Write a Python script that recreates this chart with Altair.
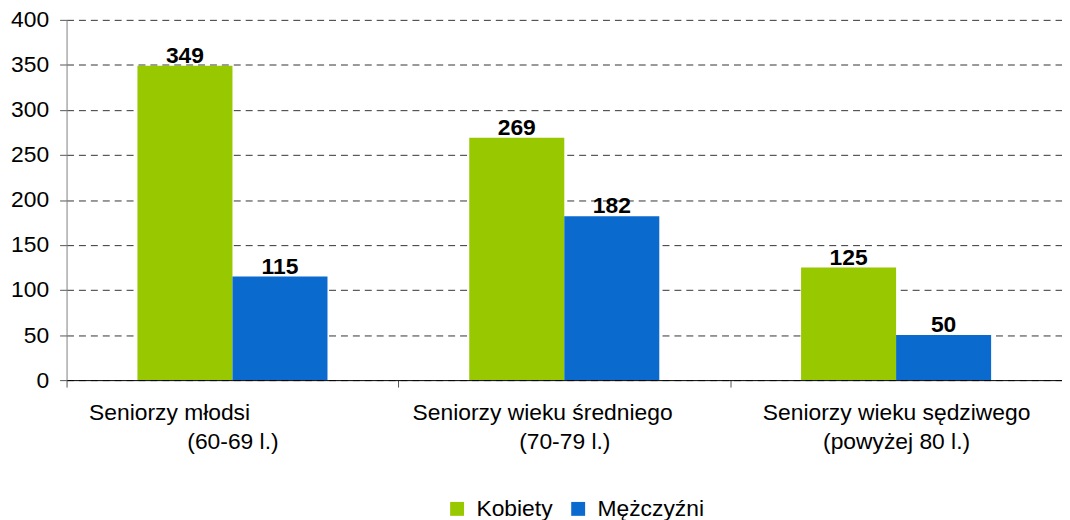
import altair as alt
import pandas as pd

# ---- data ----
group_line1 = ["Seniorzy młodsi", "Seniorzy wieku średniego", "Seniorzy wieku sędziwego"]
group_line2 = ["(60-69 l.)", "(70-79 l.)", "(powyżej 80 l.)"]
series = ["Kobiety", "Mężczyźni"]
kobiety = [349, 269, 125]
mezczyzni = [115, 182, 50]

# ---- style ----
FONT = "Liberation Sans"
FS = 23
colors = ["#98C800", "#0A6ACE"]
line1_pad = [20, 7, 0]  # trailing non-breaking spaces (label layout as in the original)

keys = [
    l1 + "\u00a0" * p + "\u200b" + "|" + l2
    for l1, l2, p in zip(group_line1, group_line2, line1_pad)
]

rows = []
for k, a, b in zip(keys, kobiety, mezczyzni):
    rows.append({"group": k, "series": series[0], "value": a})
    rows.append({"group": k, "series": series[1], "value": b})
df = pd.DataFrame(rows)

x = alt.X(
    "group:N",
    sort=keys,
    scale=alt.Scale(paddingInner=0, paddingOuter=0),
    axis=alt.Axis(
        title=None,
        labelAngle=0,
        tickBand="extent",
        tickSize=7,
        tickColor="#555555",
        domainColor="#000000",
        labelFont=FONT,
        labelFontSize=FS,
        labelColor="#000000",
        labelLineHeight=29,
        labelPadding=15,
        labelLimit=600,
        labelExpr="split(datum.label, '|')",
        grid=False,
    ),
)
xo = alt.XOffset("series:N", sort=series, scale=alt.Scale(paddingInner=0, paddingOuter=0.746))
y = alt.Y(
    "value:Q",
    scale=alt.Scale(domain=[0, 400], nice=False),
    axis=alt.Axis(
        title=None,
        values=list(range(0, 401, 50)),
        tickSize=7,
        tickColor="#555555",
        domainColor="#808080",
        grid=True,
        gridColor="#333333",
        gridDash=[7, 5],
        gridWidth=1,
        labelFont=FONT,
        labelFontSize=FS,
        labelColor="#000000",
        labelPadding=11,
    ),
)

bars = alt.Chart(df).mark_bar().encode(
    x=x,
    xOffset=xo,
    y=y,
    color=alt.Color(
        "series:N",
        sort=series,
        scale=alt.Scale(domain=series, range=colors),
        legend=alt.Legend(
            title=None,
            orient="none",
            legendX=382,
            legendY=481,
            direction="horizontal",
            symbolType="square",
            symbolSize=196,
            symbolStrokeWidth=0,
            labelFont=FONT,
            labelFontSize=FS,
            labelColor="#000000",
            labelOffset=8,
            columnPadding=14,
        ),
    ),
)

labels = alt.Chart(df).mark_text(
    baseline="alphabetic", dy=-3, font=FONT, fontSize=FS, fontWeight="bold", color="#000000"
).encode(x=x, xOffset=xo, y=y, text="value:Q")

chart = (
    alt.layer(bars, labels)
    .properties(
        width=1003,
        height=363,
        padding={"left": 59, "top": 10, "right": 0, "bottom": 139},
        autosize="none",
    )
    .configure_view(stroke=None)
)

chart.save("out.html", embed_options={"renderer": "svg", "actions": False})
